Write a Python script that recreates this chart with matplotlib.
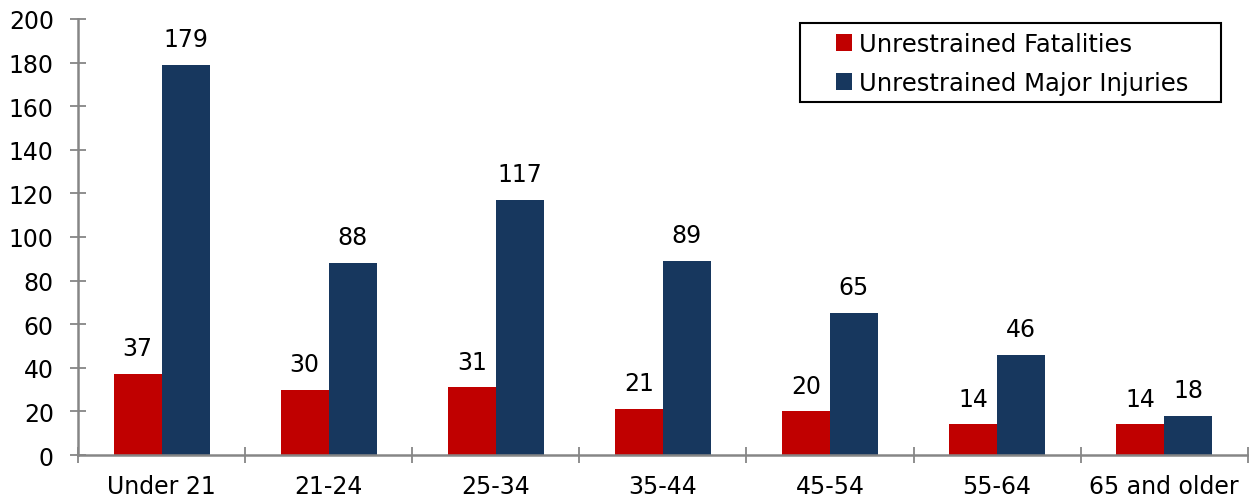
import numpy as np
import matplotlib
matplotlib.use('Agg')
import matplotlib.pyplot as plt
from matplotlib.patches import Rectangle

# 数据
categories = ['Under 21', '21-24', '25-34', '35-44', '45-54', '55-64', '65 and older']
fatalities = [37, 30, 31, 21, 20, 14, 14]
major_injuries = [179, 88, 117, 89, 65, 46, 18]

matplotlib.rcParams['font.family'] = ['DejaVu Sans']

fig = plt.figure(figsize=(12.49, 5.02), dpi=100)
ax = fig.add_axes([0.0625, 0.0916, 0.9365, 0.8686])

x = np.arange(len(categories))
w = 0.287
b1 = ax.bar(x - w / 2, fatalities, w, color='#C00000', label='Unrestrained Fatalities')
b2 = ax.bar(x + w / 2, major_injuries, w, color='#17375E', label='Unrestrained Major Injuries')

# 数据标签
for bars in (b1, b2):
    for bar in bars:
        h = bar.get_height()
        ax.annotate(f'{int(h)}', (bar.get_x() + bar.get_width() / 2, h),
                    xytext=(0, 10), textcoords='offset points',
                    ha='center', va='bottom', fontsize=17)

ax.set_xlim(-0.5, len(categories) - 0.5)
ax.set_ylim(0, 200)
ax.set_yticks(range(0, 201, 20))
ax.tick_params(axis='y', labelsize=17, direction='inout', length=11, width=1.3,
               color='#868686', pad=12)

# x轴: 分组边界刻度
ax.set_xticks(np.arange(-0.5, len(categories)), minor=False)
ax.set_xticklabels([])
ax.set_xticks(x, minor=True)
ax.set_xticklabels(categories, minor=True, fontsize=17)
ax.tick_params(axis='x', which='major', direction='inout', length=11, width=1.3, color='#868686')
ax.tick_params(axis='x', which='minor', length=0, pad=14)

for s in ['top', 'right']:
    ax.spines[s].set_visible(False)
for s in ['left', 'bottom']:
    ax.spines[s].set_color('#868686')
    ax.spines[s].set_linewidth(1.8)

# 图例（无边框，手动绘制外框）
leg = ax.legend(loc='upper left', bbox_to_anchor=(836 / 1249, 1 - 33 / 502),
                bbox_transform=fig.transFigure, fontsize=17.5,
                frameon=False, borderpad=0, borderaxespad=0,
                handlelength=0.65, handleheight=0.65, handletextpad=0.3,
                labelspacing=0.62)
fig.add_artist(Rectangle((800 / 1249, 1 - 103 / 502), 421 / 1249, 79 / 502,
                         transform=fig.transFigure, fill=False,
                         edgecolor='black', linewidth=1.5))

fig.savefig('out.png', dpi=100)
